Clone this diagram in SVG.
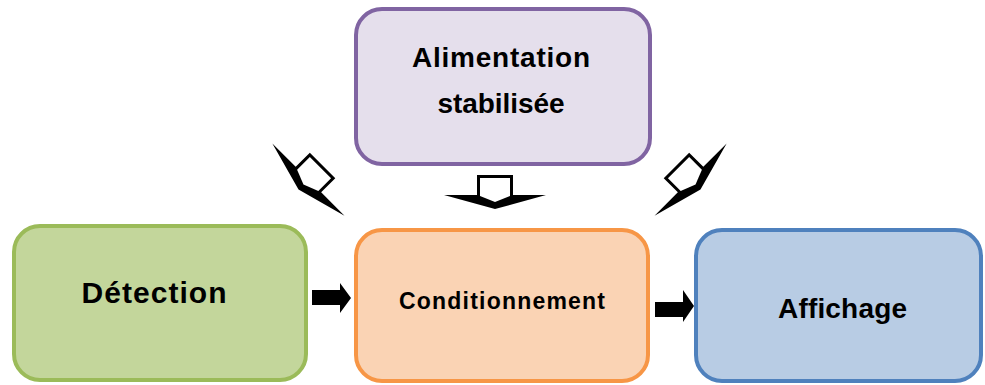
<svg xmlns="http://www.w3.org/2000/svg" width="985" height="385" viewBox="0 0 985 385">
<style>
  .box { stroke-width: 4; }
  .lbl { font-family: "Liberation Sans", Arial, sans-serif; font-weight: bold; fill: #000; text-anchor: middle; }
  .solid { fill: #000; }
</style>
<defs>
  <g id="hollowArrow">
    <path fill="#000" d="M-18,-22 L18,-22 L18,-2 L51,-2 L0,12 L-51,-2 L-18,-2 Z"/>
    <path fill="#fff" d="M-15,-19 L15,-19 L15,-1 L0,5 L-15,-1 Z"/>
  </g>
</defs>
<rect width="985" height="385" fill="#fff"/>

<g id="alimentation">
  <rect class="box" x="356" y="9" width="294" height="155" rx="26" fill="#E5DFEC" stroke="#8064A2"/>
  <text class="lbl" x="501" y="67" font-size="28" textLength="178">Alimentation</text>
  <text class="lbl" x="501" y="113" font-size="28" textLength="127">stabilisée</text>
</g>

<g id="detection">
  <rect class="box" x="14" y="226" width="292" height="154" rx="26" fill="#C3D69B" stroke="#9BBB59"/>
  <text class="lbl" x="154" y="303" font-size="30" textLength="145">Détection</text>
</g>

<g id="conditionnement">
  <rect class="box" x="356" y="230" width="292" height="151" rx="26" fill="#FAD3B4" stroke="#F79646"/>
  <text class="lbl" x="502" y="309" font-size="23" textLength="206">Conditionnement</text>
</g>

<g id="affichage">
  <rect class="box" x="696" y="230" width="285" height="151" rx="26" fill="#B8CCE4" stroke="#4F81BD"/>
  <text class="lbl" x="842.5" y="318" font-size="28" textLength="129">Affichage</text>
</g>

<g id="connectors">
  <use href="#hollowArrow" transform="translate(495,197)"/>
  <use href="#hollowArrow" transform="translate(307,181) rotate(45)"/>
  <use href="#hollowArrow" transform="translate(692,181) rotate(-45)"/>
  <path class="solid" d="M312,290 L340,290 L340,283 L351,298 L340,313 L340,305 L312,305 Z"/>
  <path class="solid" d="M655,302 L683,302 L683,290 L694,306 L683,322 L683,317 L655,317 Z"/>
</g>
</svg>
